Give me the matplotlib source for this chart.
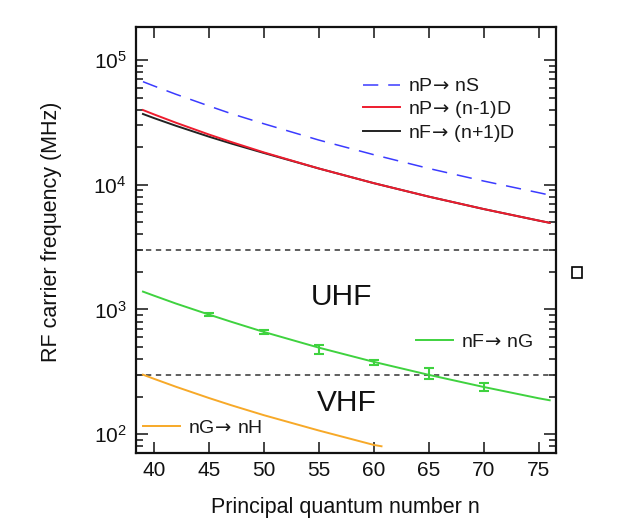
import matplotlib
matplotlib.use("Agg")
import matplotlib.pyplot as plt
from matplotlib.ticker import LogLocator, NullFormatter, FixedLocator
from matplotlib.patches import Rectangle
from matplotlib.font_manager import FontProperties

plt.rcParams['font.family'] = ['Liberation Sans', 'DejaVu Sans']
plt.rcParams['mathtext.fontset'] = 'custom'
plt.rcParams['mathtext.rm'] = 'Liberation Sans'
plt.rcParams['mathtext.it'] = 'Liberation Sans:italic'
plt.rcParams['mathtext.bf'] = 'Liberation Sans:bold'

# ---- data ----
n_curve = [39, 40, 42, 45, 47, 50, 55, 60, 65, 70, 75, 76]
f_PS = [67000, 61900, 53100, 42800, 37200, 30800, 22800, 17400, 13500, 10700, 8630, 8260]
f_PD = [39700, 36640, 31410, 25270, 22050, 18160, 13490, 10290, 8026, 6381, 5157, 4950]
f_FD = [36900, 34220, 29680, 24280, 21430, 17960, 13490, 10290, 8026, 6381, 5157, 4950]
f_FG = [1390, 1290, 1115, 910, 798, 660, 494, 380, 299, 239, 194, 187]

n_GH = [39, 40, 42, 45, 47, 50, 55, 60, 60.7]
f_GH = [300, 278, 240, 195, 171, 142, 107, 82, 80]

n_meas = [45, 50, 55, 60, 65, 70]
f_meas = [915, 655, 480, 374, 307, 240]
f_err = [29, 25, 37, 18, 31, 18]

band_limits = [3000, 300]
band_names = ['UHF', 'VHF']

ARROW = '$\\!\\rightarrow\\!$'
labels = ['nP' + ARROW + ' nS', 'nP' + ARROW + ' (n-1)D', 'nF' + ARROW + ' (n+1)D',
          'nF' + ARROW + ' nG', 'nG' + ARROW + ' nH']
x_ticks = [40, 45, 50, 55, 60, 65, 70, 75]

# ---- figure ----
fig = plt.figure(figsize=(6.22, 5.24), dpi=100)
ax = fig.add_axes([0.218, 0.136, 0.676, 0.812])

blue = '#3b3bff'
red = '#ee1c2e'
black = '#222222'
green = '#3fd23f'
orange = '#f7a928'
ink = '#111111'

for v in band_limits:
    ax.axhline(v, color='#333333', lw=1.1, dashes=(3.5, 3))

l1, = ax.plot(n_curve, f_PS, color=blue, lw=1.1, dashes=(10, 6.5))
l3, = ax.plot(n_curve, f_FD, color=black, lw=1.4)
l2, = ax.plot(n_curve, f_PD, color=red, lw=1.4)
l4, = ax.plot(n_curve, f_FG, color=green, lw=1.4)
ax.errorbar(n_meas, f_meas, yerr=f_err, fmt='none', ecolor=green,
            elinewidth=1.5, capsize=3.3, capthick=1.5)
l5, = ax.plot(n_GH, f_GH, color=orange, lw=1.4)

ax.set_yscale('log')
ax.set_xlim(38.33, 76.58)
ax.set_ylim(71, 1.83e5)

ax.xaxis.set_major_locator(FixedLocator(x_ticks))
ax.yaxis.set_major_locator(LogLocator(base=10))
ax.yaxis.set_minor_locator(LogLocator(base=10, subs=range(2, 10)))
ax.yaxis.set_minor_formatter(NullFormatter())

ax.tick_params(which='both', direction='in', top=True, right=True, width=1.1,
               labelsize=15, colors=ink)
ax.tick_params(axis='x', which='major', length=8, pad=6)
ax.tick_params(axis='y', which='major', length=8.5, pad=6.5)
ax.tick_params(axis='y', which='minor', length=5)
for s in ax.spines.values():
    s.set_linewidth(1.6)
    s.set_color(ink)

ax.set_xlabel('Principal quantum number n', fontsize=15.5, color=ink)
ax.set_ylabel('RF carrier frequency (MHz)', fontsize=15.5, color=ink)
ax.xaxis.set_label_coords(0.5, -0.105)
ax.yaxis.set_label_coords(-0.175, 0.52)

ax.text(0.49, 0.367, band_names[0], transform=ax.transAxes, fontsize=21.5,
        ha='center', va='center', color=ink)
ax.text(0.502, 0.116, band_names[1], transform=ax.transAxes, fontsize=21.5,
        ha='center', va='center', color=ink)

prop = FontProperties(family='Liberation Sans', size=14, math_fontfamily='dejavusans')
common = dict(frameon=False, prop=prop, borderpad=0, borderaxespad=0,
              handlelength=1.9, handletextpad=0.42, labelcolor='#1a1a1a')
leg1 = ax.legend([l1, l2, l3], labels[:3], loc='upper left',
                 bbox_to_anchor=(0.541, 0.881), labelspacing=0.17, **common)
ax.add_artist(leg1)
leg2 = ax.legend([l4], [labels[3]], loc='upper left',
                 bbox_to_anchor=(0.667, 0.281), **common)
ax.add_artist(leg2)
leg3 = ax.legend([l5], [labels[4]], loc='upper left',
                 bbox_to_anchor=(0.018, 0.078), **common)

fig.patches.append(Rectangle((0.919, 0.469), 0.017, 0.021, transform=fig.transFigure,
                             fill=False, edgecolor='black', lw=1.2))

fig.savefig('out.png', dpi=100)
